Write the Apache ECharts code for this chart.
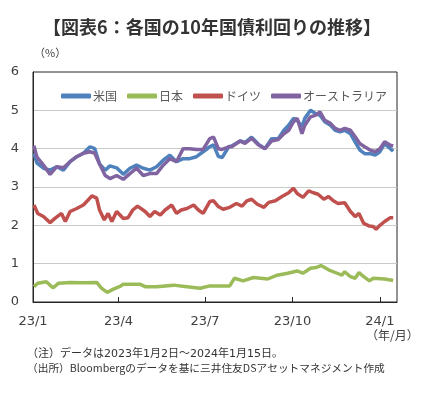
<!DOCTYPE html>
<html><head><meta charset="utf-8">
<script src="https://cdn.jsdelivr.net/npm/echarts@6/dist/echarts.min.js"></script>
<style>html,body{margin:0;padding:0;background:#fff}#c{width:424px;height:393px}</style>
</head><body><div id="c"></div>
<script>
const seriesNames = ['米国', '日本', 'ドイツ', 'オーストラリア'];
const xTickLabels = ['23/1', '23/4', '23/7', '23/10', '24/1'];
const xTickDates = ['2023-01-01', '2023-04-01', '2023-07-01', '2023-10-01', '2024-01-01'];
const yTicks = [0, 1, 2, 3, 4, 5, 6];

const usData = [
['2023-01-02',3.88],['2023-01-05',3.63],['2023-01-12',3.49],['2023-01-19',3.44],['2023-01-26',3.53],
['2023-02-02',3.44],['2023-02-09',3.66],['2023-02-16',3.79],['2023-02-23',3.88],['2023-03-02',4.05],
['2023-03-07',4.00],['2023-03-12',3.60],['2023-03-18',3.44],['2023-03-23',3.55],['2023-03-30',3.50],
['2023-04-06',3.33],['2023-04-13',3.49],['2023-04-20',3.57],['2023-04-27',3.49],['2023-05-04',3.44],
['2023-05-11',3.53],['2023-05-18',3.70],['2023-05-25',3.83],['2023-06-01',3.66],['2023-06-08',3.74],
['2023-06-15',3.74],['2023-06-22',3.79],['2023-06-29',3.92],['2023-07-06',4.05],['2023-07-10',4.10],
['2023-07-15',3.80],['2023-07-19',3.77],['2023-07-26',4.05],['2023-07-29',4.07],['2023-08-07',4.20],
['2023-08-12',4.16],['2023-08-19',4.30],['2023-08-26',4.12],['2023-09-02',4.00],['2023-09-09',4.26],
['2023-09-16',4.26],['2023-09-22',4.48],['2023-09-27',4.61],['2023-10-02',4.79],['2023-10-06',4.74],
['2023-10-11',4.57],['2023-10-14',4.79],['2023-10-20',5.00],['2023-10-25',4.92],['2023-10-30',4.87],
['2023-11-04',4.70],['2023-11-10',4.61],['2023-11-15',4.48],['2023-11-20',4.44],['2023-11-25',4.48],
['2023-12-01',4.39],['2023-12-06',4.17],['2023-12-11',3.96],['2023-12-16',3.87],['2023-12-22',3.87],
['2023-12-27',3.83],['2024-01-01',3.92],['2024-01-06',4.13],['2024-01-12',4.00],['2024-01-15',3.93]
];
const jpData = [
['2023-01-02',0.40],['2023-01-06',0.49],['2023-01-15',0.53],['2023-01-22',0.37],['2023-01-28',0.49],
['2023-02-09',0.51],['2023-02-23',0.50],['2023-03-09',0.51],['2023-03-14',0.36],['2023-03-20',0.25],
['2023-03-26',0.33],['2023-04-02',0.40],['2023-04-06',0.46],['2023-04-24',0.46],['2023-04-29',0.40],
['2023-05-11',0.40],['2023-05-29',0.44],['2023-06-12',0.40],['2023-06-26',0.36],['2023-07-06',0.42],
['2023-07-27',0.42],['2023-08-01',0.62],['2023-08-10',0.55],['2023-08-21',0.64],['2023-09-05',0.60],
['2023-09-15',0.70],['2023-09-26',0.75],['2023-10-06',0.81],['2023-10-12',0.75],['2023-10-20',0.88],
['2023-10-26',0.90],['2023-10-31',0.95],['2023-11-08',0.84],['2023-11-17',0.75],['2023-11-22',0.70],
['2023-11-25',0.79],['2023-12-01',0.66],['2023-12-06',0.62],['2023-12-10',0.77],['2023-12-15',0.66],
['2023-12-21',0.55],['2023-12-25',0.62],['2024-01-06',0.60],['2024-01-15',0.56]
];
const deData = [
['2023-01-02',2.53],['2023-01-06',2.31],['2023-01-12',2.23],['2023-01-19',2.07],['2023-01-24',2.18],
['2023-01-31',2.31],['2023-02-04',2.10],['2023-02-09',2.36],['2023-02-16',2.44],['2023-02-23',2.53],
['2023-02-28',2.66],['2023-03-04',2.77],['2023-03-09',2.71],['2023-03-12',2.40],['2023-03-17',2.14],
['2023-03-21',2.31],['2023-03-25',2.10],['2023-03-30',2.36],['2023-04-06',2.18],['2023-04-11',2.20],
['2023-04-16',2.40],['2023-04-21',2.50],['2023-04-29',2.36],['2023-05-04',2.23],['2023-05-09',2.36],
['2023-05-15',2.27],['2023-05-20',2.40],['2023-05-27',2.53],['2023-06-01',2.31],['2023-06-06',2.40],
['2023-06-12',2.44],['2023-06-19',2.53],['2023-06-24',2.40],['2023-06-29',2.31],['2023-07-06',2.62],
['2023-07-10',2.64],['2023-07-15',2.49],['2023-07-20',2.42],['2023-07-27',2.47],['2023-08-03',2.57],
['2023-08-09',2.50],['2023-08-14',2.64],['2023-08-19',2.68],['2023-08-25',2.55],['2023-09-01',2.47],
['2023-09-06',2.60],['2023-09-13',2.64],['2023-09-20',2.75],['2023-09-27',2.85],['2023-10-02',2.97],
['2023-10-06',2.83],['2023-10-12',2.73],['2023-10-18',2.90],['2023-10-23',2.85],['2023-10-28',2.81],
['2023-11-03',2.68],['2023-11-08',2.75],['2023-11-13',2.64],['2023-11-18',2.57],['2023-11-25',2.59],
['2023-12-01',2.36],['2023-12-06',2.23],['2023-12-10',2.31],['2023-12-15',2.05],['2023-12-21',1.98],
['2023-12-25',1.97],['2023-12-28',1.90],['2024-01-01',2.00],['2024-01-06',2.10],['2024-01-12',2.20],
['2024-01-15',2.20]
];
const auData = [
['2023-01-02',4.08],['2023-01-05',3.79],['2023-01-12',3.57],['2023-01-19',3.33],['2023-01-26',3.53],
['2023-02-02',3.50],['2023-02-09',3.66],['2023-02-16',3.79],['2023-02-23',3.88],['2023-03-02',3.92],
['2023-03-07',3.88],['2023-03-12',3.60],['2023-03-18',3.30],['2023-03-23',3.22],['2023-03-30',3.30],
['2023-04-06',3.20],['2023-04-13',3.35],['2023-04-20',3.49],['2023-04-27',3.30],['2023-05-04',3.35],
['2023-05-11',3.35],['2023-05-18',3.57],['2023-05-25',3.74],['2023-06-01',3.66],['2023-06-08',4.00],
['2023-06-15',4.00],['2023-06-22',3.98],['2023-06-29',3.98],['2023-07-06',4.26],['2023-07-10',4.30],
['2023-07-15',4.00],['2023-07-19',3.98],['2023-07-26',4.05],['2023-07-29',4.05],['2023-08-07',4.20],
['2023-08-12',4.14],['2023-08-19',4.27],['2023-08-26',4.10],['2023-09-02',4.00],['2023-09-09',4.20],
['2023-09-16',4.24],['2023-09-22',4.39],['2023-09-27',4.48],['2023-10-02',4.70],['2023-10-06',4.79],
['2023-10-11',4.39],['2023-10-14',4.61],['2023-10-20',4.83],['2023-10-25',4.87],['2023-10-30',4.96],
['2023-11-04',4.74],['2023-11-10',4.66],['2023-11-15',4.53],['2023-11-20',4.48],['2023-11-25',4.53],
['2023-12-01',4.48],['2023-12-06',4.31],['2023-12-11',4.13],['2023-12-16',4.05],['2023-12-22',3.96],
['2023-12-27',3.92],['2024-01-01',4.00],['2024-01-06',4.18],['2024-01-12',4.09],['2024-01-15',4.07]
];
const colors = ['#4F81BD', '#9BBB59', '#C0504D', '#8064A2'];
const xMinDate = '2023-01-01';
const xMaxDate = '2024-01-19';

const FONT = "'DejaVu Sans', 'Noto Sans CJK JP', sans-serif";
const ts = d => Date.UTC(+d.slice(0, 4), +d.slice(5, 7) - 1, +d.slice(8, 10));
const tickTs = xTickDates.map(ts);
const labelMap = {};
tickTs.forEach((t, i) => labelMap[t] = xTickLabels[i]);
const toXY = arr => arr.map(p => [ts(p[0]), p[1]]);

const chart = echarts.init(document.getElementById('c'), null, {renderer: 'canvas'});
const datasets = [usData, jpData, deData, auData];
chart.setOption({
  animation: false,
  color: colors,
  title: {
    text: '【図表6：各国の10年国債利回りの推移】',
    left: 'center', top: 13,
    textStyle: {fontFamily: "'Noto Sans CJK JP', sans-serif", fontSize: 18, fontWeight: 'bold', color: '#333333'}
  },
  legend: {
    left: 56, top: 85,
    itemWidth: 30, itemHeight: 5, itemGap: 10,
    icon: 'roundRect',
    data: seriesNames,
    textStyle: {fontFamily: "'Noto Sans CJK JP', sans-serif", fontSize: 12, color: '#595959', padding: [0, 0, 0, -3]}
  },
  grid: {left: 33, right: 27, top: 72, bottom: 91, show: true, borderColor: '#262626', borderWidth: 1, containLabel: false},
  xAxis: {
    type: 'value',
    min: ts(xMinDate), max: ts(xMaxDate),
    axisLine: {show: true, lineStyle: {color: '#262626', width: 1}},
    axisTick: {show: true, inside: true, length: 5, lineStyle: {color: '#262626'}, customValues: tickTs},
    axisLabel: {customValues: tickTs, margin: 13, fontFamily: FONT, fontSize: 13, color: '#404040',
      formatter: v => labelMap[v] || ''},
    splitLine: {show: false}
  },
  yAxis: {
    type: 'value', min: 0, max: 6, interval: 1,
    axisLine: {show: true, lineStyle: {color: '#262626', width: 1}},
    axisTick: {show: false},
    axisLabel: {margin: 14, fontFamily: FONT, fontSize: 13, color: '#404040',
      formatter: v => yTicks.includes(v) ? String(v) : ''},
    splitLine: {show: true, showMinLine: false, showMaxLine: false, lineStyle: {color: '#c6cbc4', width: 1}}
  },
  series: seriesNames.map((n, i) => ({
    name: n, type: 'line', data: toXY(datasets[i]), showSymbol: false, symbol: 'none',
    lineStyle: {width: 3.5, color: colors[i]}, itemStyle: {color: colors[i]}
  })),
  graphic: [
    {type: 'text', left: 34, top: 47, style: {text: '（%）', font: "11px 'Noto Sans CJK JP'", fill: '#404040'}},
    {type: 'text', left: 366, top: 329, style: {text: '（年/月）', font: "12px 'Noto Sans CJK JP'", fill: '#404040'}},
    {type: 'text', left: 27, top: 349, style: {text: '（注）データは2023年1月2日～2024年1月15日。', font: "11px 'DejaVu Sans', 'Noto Sans CJK JP'", fill: '#333333'}},
    {type: 'text', left: 27, top: 363, style: {text: '（出所）Bloombergのデータを基に三井住友DSアセットマネジメント作成', font: "10.7px 'Noto Sans CJK JP'", fill: '#333333'}}
  ]
});
</script></body></html>
